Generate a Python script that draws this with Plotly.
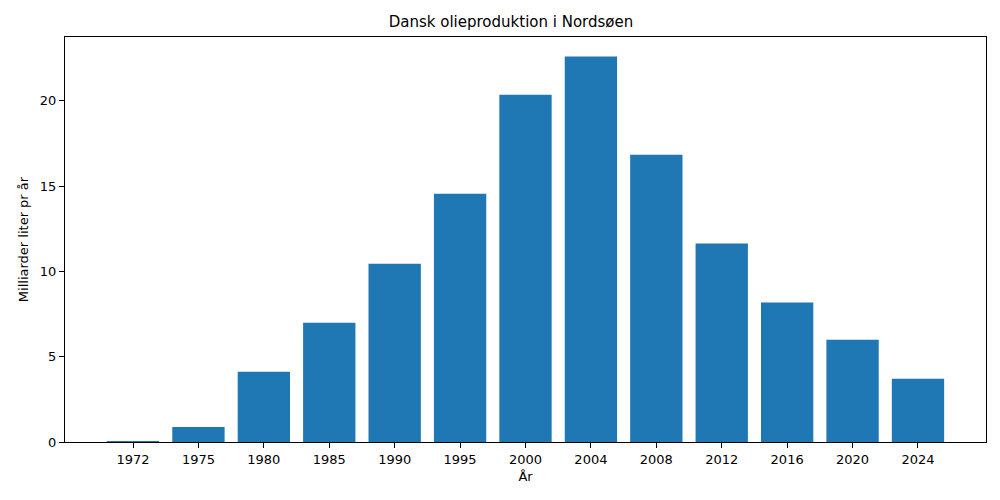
import plotly.graph_objects as go

# --- data ---
years = ["1972", "1975", "1980", "1985", "1990", "1995", "2000",
         "2004", "2008", "2012", "2016", "2020", "2024"]
production = [0.05, 0.88, 4.12, 6.99, 10.45, 14.55, 20.36,
              22.60, 16.84, 11.63, 8.18, 6.0, 3.71]

fig = go.Figure(go.Bar(
    x=years,
    y=production,
    marker=dict(color="#1f77b4", line=dict(width=0)),
))

axis_style = dict(
    showline=True, linecolor="black", linewidth=1, mirror=True,
    ticks="outside", ticklen=5, tickcolor="black", tickwidth=1,
    showgrid=False, zeroline=False, automargin=False,
    tickfont=dict(size=13, color="black"),
)

fig.update_layout(
    width=1000, height=500,
    paper_bgcolor="white", plot_bgcolor="white",
    font=dict(family="DejaVu Sans", color="black"),
    title=dict(text="Dansk olieproduktion i Nordsøen", x=0.511, xanchor="center",
               y=1 - 22 / 500, yanchor="middle", font=dict(size=15)),
    margin=dict(l=65, r=14, t=37, b=58),
    bargap=0.2,
    showlegend=False,
    xaxis=dict(axis_style, range=[-1.04, 13.04],
               title=dict(text="År", font=dict(size=13), standoff=6)),
    yaxis=dict(axis_style, range=[0, 23.74], tickvals=[0, 5, 10, 15, 20],
               title=dict(text="Milliarder liter pr år", font=dict(size=13), standoff=8)),
)

# fjern sidens standardmargen, så figuren står i hjørnet
fig.write_html("out.html", config={"displayModeBar": False},
               post_script="document.body.style.margin='0';")
